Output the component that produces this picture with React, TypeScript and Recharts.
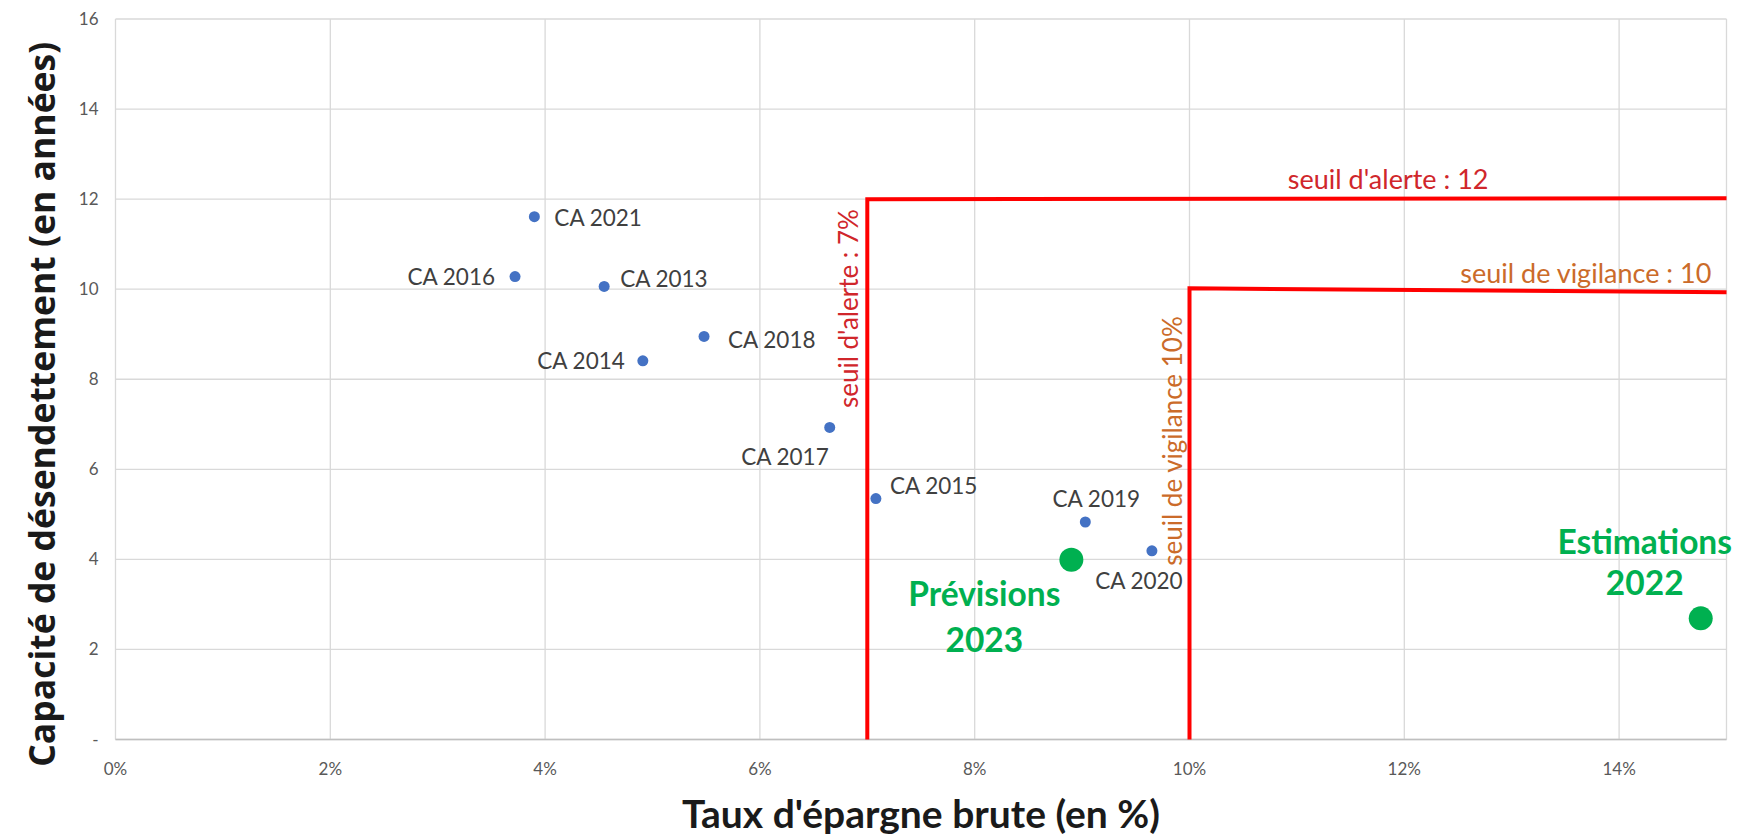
import React from 'react';
import { ScatterChart, Scatter, XAxis, YAxis, CartesianGrid, Label } from 'recharts';

// ---- Data ----
const caLabels = ['CA 2021', 'CA 2016', 'CA 2013', 'CA 2018', 'CA 2014', 'CA 2017', 'CA 2015', 'CA 2019', 'CA 2020'];
const caSavingsRate = [3.9, 3.72, 4.55, 5.48, 4.91, 6.65, 7.08, 9.03, 9.65];
const caDebtYears = [11.61, 10.28, 10.06, 8.95, 8.41, 6.93, 5.35, 4.83, 4.19];

const forecastLabels = ['Prévisions 2023', 'Estimations 2022'];
const forecastSavingsRate = [8.9, 14.76];
const forecastDebtYears = [3.99, 2.69];

const alertLineX = [7, 7, 15];
const alertLineY = [0, 12, 12.02];
const vigilanceLineX = [10, 10, 15];
const vigilanceLineY = [0, 10.02, 9.93];

const annotationTexts = ["seuil d'alerte : 12", 'seuil de vigilance : 10', "seuil d'alerte : 7%", 'seuil de vigilance 10%'];
const annotationX = [11.85, 13.69, 6.82, 9.84];
const annotationY = [12.46, 10.36, 9.57, 6.63];

const xTicks = [0, 2, 4, 6, 8, 10, 12, 14];
const yTicks = [0, 2, 4, 6, 8, 10, 12, 14, 16];

// ---- Styles ----
const BLUE = '#4472C4';
const GREEN = '#00B050';
const RED_LINE = '#FF0000';
const RED_TEXT = '#D0262B';
const ORANGE_TEXT = '#CB6B2A';
const GRID = '#D9D9D9';
const TICK = '#595959';
const LABEL = '#404040';

const annotationStyle = [
  { rotate: 0, color: RED_TEXT },
  { rotate: 0, color: ORANGE_TEXT },
  { rotate: -90, color: RED_TEXT },
  { rotate: -90, color: ORANGE_TEXT },
];

const caPlacement: Record<string, { dx: number; dy: number; anchor: 'start' | 'middle' | 'end' }> = {
  'CA 2021': { dx: 20, dy: 1, anchor: 'start' },
  'CA 2016': { dx: -20, dy: 0, anchor: 'end' },
  'CA 2013': { dx: 16, dy: -8, anchor: 'start' },
  'CA 2018': { dx: 24, dy: 3, anchor: 'start' },
  'CA 2014': { dx: -18, dy: 0, anchor: 'end' },
  'CA 2017': { dx: -1, dy: 29, anchor: 'end' },
  'CA 2015': { dx: 14, dy: -13, anchor: 'start' },
  'CA 2019': { dx: 11, dy: -23, anchor: 'middle' },
  'CA 2020': { dx: -13, dy: 30, anchor: 'middle' },
};

const forecastPlacement: Record<string, { dx: number; dy1: number; dy2: number }> = {
  'Prévisions 2023': { dx: -87, dy1: 33, dy2: 79 },
  'Estimations 2022': { dx: -56, dy1: -77, dy2: -36 },
};

// ---- Build data tables ----
const caData = caLabels.map((name, i) => ({ x: caSavingsRate[i], y: caDebtYears[i], name }));
const forecastData = forecastLabels.map((name, i) => ({ x: forecastSavingsRate[i], y: forecastDebtYears[i], name }));
const alertData = alertLineX.map((x, i) => ({ x, y: alertLineY[i] }));
const vigilanceData = vigilanceLineX.map((x, i) => ({ x, y: vigilanceLineY[i] }));
const annotationData = annotationTexts.map((text, i) => ({ x: annotationX[i], y: annotationY[i], text, idx: i }));

const CaShape = (p: any) => {
  const pl = caPlacement[p.payload.name];
  return (
    <g>
      <circle cx={p.cx} cy={p.cy} r={5.5} fill={BLUE} />
      <text
        x={p.cx + pl.dx}
        y={p.cy + pl.dy}
        textAnchor={pl.anchor}
        dominantBaseline="central"
        fontFamily="Lato"
        fontSize={22.5}
        fill={LABEL}
      >
        {p.payload.name}
      </text>
    </g>
  );
};

const ForecastShape = (p: any) => {
  const pl = forecastPlacement[p.payload.name];
  const parts = String(p.payload.name).split(' ');
  return (
    <g>
      <circle cx={p.cx} cy={p.cy} r={12} fill={GREEN} />
      <text x={p.cx + pl.dx} y={p.cy + pl.dy1} textAnchor="middle" dominantBaseline="central" fontFamily="Lato" fontWeight="bold" fontSize={33.5} fill={GREEN}>
        {parts[0]}
      </text>
      <text x={p.cx + pl.dx} y={p.cy + pl.dy2} textAnchor="middle" dominantBaseline="central" fontFamily="Lato" fontWeight="bold" fontSize={33.5} fill={GREEN}>
        {parts[1]}
      </text>
    </g>
  );
};

const AnnotationShape = (p: any) => {
  const st = annotationStyle[p.payload.idx];
  return (
    <text
      x={p.cx}
      y={p.cy}
      textAnchor="middle"
      dominantBaseline="central"
      fontFamily="Lato"
      fontSize={st.rotate ? 26 : 27}
      fill={st.color}
      transform={st.rotate ? `rotate(${st.rotate} ${p.cx} ${p.cy})` : undefined}
    >
      {p.payload.text}
    </text>
  );
};

const EmptyShape = () => <g />;

const YTitle = (props: any) => {
  const vb = props.viewBox || {};
  const cx = 41;
  const cy = vb.y + vb.height / 2 + 25;
  return (
    <text
      x={cx}
      y={cy}
      textAnchor="middle"
      dominantBaseline="central"
      fontFamily="Open Sans"
      fontWeight="bold"
      fontSize={35.5}
      fill="#1a1a1a"
      transform={`rotate(-90 ${cx} ${cy})`}
    >
      Capacité de désendettement (en années)
    </text>
  );
};

const XTitle = (props: any) => {
  const vb = props.viewBox || {};
  return (
    <text
      x={vb.x + vb.width / 2}
      y={vb.y + 73}
      textAnchor="middle"
      dominantBaseline="central"
      fontFamily="Lato"
      fontWeight="bold"
      fontSize={39}
      fill="#1a1a1a"
    >
      Taux d'épargne brute (en %)
    </text>
  );
};

export default function App() {
  return (
    <div style={{ position: 'absolute', left: 0, top: 0, background: '#fff' }}>
      <ScatterChart width={1741} height={836} margin={{ top: 19, right: 14.5, bottom: 0.5, left: 0 }}>
        <CartesianGrid stroke={GRID} strokeWidth={1.3} />
        <XAxis
          type="number"
          dataKey="x"
          domain={[0, 15]}
          ticks={xTicks}
          interval={0}
          tickFormatter={(v: number) => `${v}%`}
          tickLine={false}
          tickSize={0}
          tickMargin={23.5}
          axisLine={{ stroke: '#BFBFBF', strokeWidth: 1.3 }}
          tick={{ fill: TICK, fontSize: 17, fontFamily: 'Lato' }}
          height={96}
        >
          <Label content={XTitle} />
        </XAxis>
        <YAxis
          type="number"
          dataKey="y"
          domain={[0, 16]}
          ticks={yTicks}
          interval={0}
          tickFormatter={(v: number) => (v === 0 ? '-' : String(v))}
          tickLine={false}
          tickSize={0}
          tickMargin={17}
          axisLine={false}
          tick={{ fill: TICK, fontSize: 17, fontFamily: 'Lato' }}
          width={115.5}
        >
          <Label content={YTitle} />
        </YAxis>
        <Scatter data={alertData} line={{ stroke: RED_LINE, strokeWidth: 4 }} shape={EmptyShape} isAnimationActive={false} legendType="none" />
        <Scatter data={vigilanceData} line={{ stroke: RED_LINE, strokeWidth: 4 }} shape={EmptyShape} isAnimationActive={false} legendType="none" />
        <Scatter data={annotationData} shape={AnnotationShape} isAnimationActive={false} legendType="none" />
        <Scatter data={caData} shape={CaShape} isAnimationActive={false} />
        <Scatter data={forecastData} shape={ForecastShape} isAnimationActive={false} />
      </ScatterChart>
    </div>
  );
}
